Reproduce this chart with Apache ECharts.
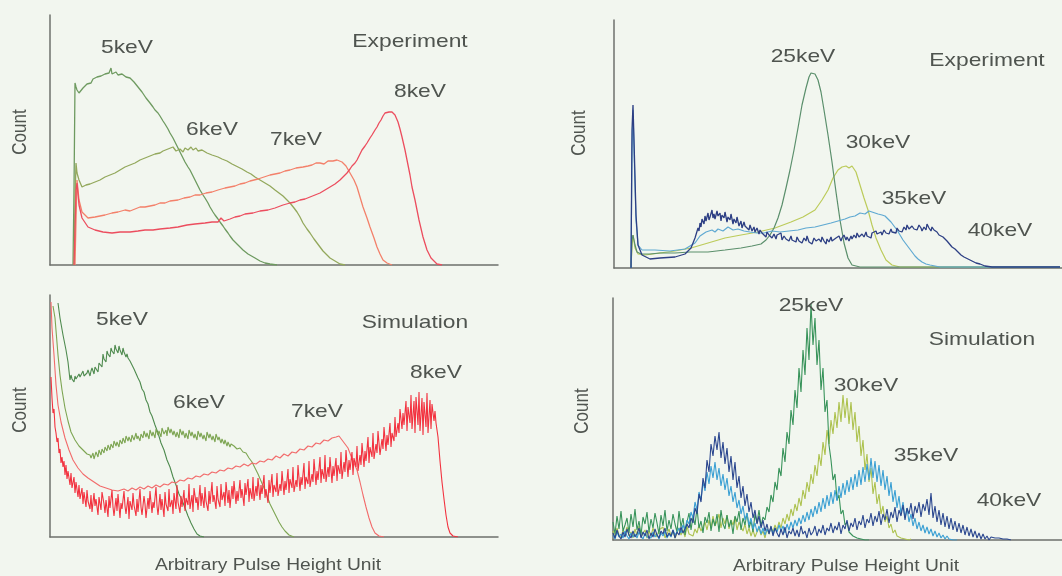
<!DOCTYPE html>
<html><head><meta charset="utf-8">
<script src="https://cdn.jsdelivr.net/npm/echarts/dist/echarts.min.js"></script>
<style>html,body{margin:0;padding:0;background:#f2f6ef}#c{width:1062px;height:576px}</style>
</head><body><div id="c"></div>
<script>
// ---------- DATA (arbitrary pulse-height channel, count) ----------
// Top-left: Experiment, 5-8 keV
const exp5keV = [[23,0],[24,75],[25,182],[26,178],[27,175],[29,172],[31,174],[33,177],[35,176],[37,181],[39,183],[41,182],[43,186],[45,185],[47,188],[49,186],[51,189],[53,188],[55,191],[57,189],[59,192],[61,197],[62,191],[64,190],[66,193],[68,190],[70,192],[72,191],[74,193],[76,188],[78,190],[80,187],[82,185],[84,183],[86,181],[88,178],[90,176],[92,173],[94,170],[96,167],[98,165],[100,162],[103,158],[105,155],[108,152],[110,149],[113,144],[115,141],[118,136],[120,132],[123,127],[125,123],[128,117],[130,113],[133,107],[135,103],[138,98],[140,95],[143,89],[145,85],[148,79],[150,75],[153,70],[155,67],[158,62],[160,58],[163,53],[165,50],[168,46],[170,43],[173,39],[175,36],[178,32],[180,29],[183,25],[185,23],[188,20],[190,18],[193,15],[195,14],[198,11],[200,10],[205,7],[210,4],[215,2],[220,1],[227,0]];
const exp6keV = [[24,0],[25,65],[26,102],[27,92],[29,85],[32,78],[36,80],[40,81],[45,83],[50,85],[55,88],[60,90],[65,92],[70,95],[75,98],[80,100],[85,102],[90,105],[95,107],[100,109],[105,111],[110,112],[113,114],[115,112],[118,116],[120,115],[123,118],[126,114],[130,116],[133,113],[135,117],[138,115],[141,118],[143,115],[146,117],[148,114],[152,115],[157,112],[162,110],[168,108],[172,106],[177,104],[182,101],[188,98],[192,96],[197,93],[201,91],[205,88],[210,85],[215,82],[220,79],[225,75],[229,72],[233,69],[237,65],[240,62],[244,57],[247,53],[250,48],[253,42],[257,36],[260,32],[264,26],[267,22],[270,18],[273,14],[277,10],[280,7],[285,4],[290,1],[295,0]];
const exp7keV = [[25,0],[26,45],[27,85],[29,65],[32,53],[38,47],[45,48],[50,49],[55,50],[62,52],[68,53],[75,55],[80,54],[85,56],[90,58],[95,58],[100,59],[105,60],[110,62],[115,62],[120,64],[128,65],[134,67],[140,68],[145,70],[150,70],[156,72],[162,73],[168,75],[175,77],[180,78],[185,79],[190,81],[195,82],[200,84],[208,86],[214,88],[220,90],[225,91],[230,92],[235,94],[240,95],[246,97],[253,98],[258,99],[262,100],[266,102],[270,102],[274,101],[278,104],[283,104],[287,105],[292,103],[296,99],[300,92],[304,85],[307,78],[310,68],[313,58],[317,47],[320,38],[324,27],[327,18],[330,11],[333,5],[337,2],[342,0]];
const exp8keV = [[24,0],[25,35],[26,75],[27,82],[29,60],[32,47],[38,38],[45,35],[53,33],[62,32],[70,33],[80,33],[88,34],[95,35],[103,35],[110,36],[120,37],[128,38],[137,40],[145,41],[155,42],[162,43],[168,43],[171,47],[174,44],[180,46],[185,48],[190,49],[195,51],[203,52],[210,54],[218,55],[225,57],[233,60],[240,62],[245,63],[250,65],[255,66],[260,68],[265,70],[270,72],[275,75],[280,78],[285,81],[290,85],[294,89],[297,92],[300,96],[302,99],[305,102],[307,105],[310,111],[312,115],[315,119],[317,122],[320,127],[322,130],[325,135],[327,138],[329,142],[331,145],[333,149],[335,152],[337,153],[339,153],[342,153],[345,150],[348,143],[350,136],[352,128],[355,115],[358,100],[360,90],[362,78],[365,65],[369,45],[373,28],[377,15],[381,7],[387,1],[392,0]];

// Top-right: Experiment, 25-40 keV
const exp25keV = [[17,0],[18,28],[19,33],[21,23],[23,16],[27,14],[36,14],[46,15],[61,15],[76,16],[94,16],[111,18],[127,20],[138,22],[147,24],[152,28],[156,33],[160,40],[164,50],[168,63],[172,80],[176,98],[180,118],[184,140],[188,163],[192,180],[195,191],[197,195],[198,193],[199,196],[201,194],[204,188],[207,176],[210,158],[214,133],[218,106],[222,76],[226,48],[230,25],[234,10],[238,3],[246,1],[300,1],[446,1]];
const exp30keV = [[17,0],[18,23],[19,33],[21,20],[24,14],[31,13],[46,15],[61,17],[77,20],[94,25],[111,30],[127,33],[144,36],[161,40],[177,46],[189,51],[201,58],[208,68],[214,78],[219,90],[224,98],[228,101],[232,102],[235,100],[238,102],[242,96],[246,83],[250,70],[254,58],[258,43],[262,30],[267,18],[272,8],[278,3],[286,1],[446,1]];
const exp35keV = [[17,0],[18,118],[19,158],[20,118],[22,48],[24,23],[28,18],[41,18],[56,17],[71,19],[81,25],[86,32],[92,36],[98,38],[101,36],[104,39],[109,37],[114,41],[119,38],[124,39],[130,37],[136,36],[143,35],[150,35],[158,37],[166,36],[175,37],[184,38],[192,40],[201,41],[209,43],[217,45],[224,47],[231,49],[236,51],[241,52],[246,55],[251,54],[255,57],[258,56],[261,55],[264,54],[268,53],[271,52],[274,49],[277,46],[280,42],[283,38],[286,33],[289,28],[292,24],[295,20],[298,16],[301,12],[304,9],[308,6],[312,4],[316,3],[326,1],[446,1]];
const exp40keV = [[17,0],[18,138],[19,163],[20,128],[22,53],[24,23],[28,13],[36,9],[46,10],[61,11],[71,14],[77,20],[81,30],[84,40],[85,37],[86,45],[87,41],[88,49],[90,44],[91,52],[92,47],[94,55],[95,48],[96,51],[98,58],[99,50],[100,54],[101,49],[103,57],[104,52],[106,55],[107,47],[108,53],[110,50],[111,56],[113,46],[114,51],[116,48],[117,54],[119,44],[120,49],[122,45],[123,51],[125,42],[127,47],[128,40],[130,46],[131,42],[133,44],[135,38],[136,43],[138,37],[140,41],[141,36],[143,40],[145,34],[146,38],[148,35],[150,37],[152,31],[153,36],[155,33],[157,35],[158,30],[160,34],[162,29],[163,33],[165,31],[167,35],[168,28],[170,32],[172,29],[173,31],[175,27],[177,32],[178,28],[180,30],[182,26],[183,31],[185,27],[187,29],[188,25],[190,30],[192,27],[193,32],[195,26],[197,28],[198,24],[200,30],[202,27],[203,25],[205,29],[207,26],[208,31],[210,27],[212,24],[213,29],[215,26],[217,31],[218,27],[220,25],[222,30],[223,28],[225,32],[227,27],[228,30],[230,33],[232,28],[233,31],[235,27],[237,32],[238,29],[240,33],[242,30],[243,35],[245,31],[247,29],[248,34],[250,31],[252,36],[253,32],[255,34],[257,30],[258,35],[260,33],[262,37],[263,34],[265,32],[267,36],[268,33],[270,38],[272,35],[273,37],[275,34],[277,39],[278,36],[280,38],[282,35],[283,40],[285,37],[287,39],[288,36],[290,41],[292,38],[293,43],[295,39],[297,37],[298,42],[300,39],[302,41],[303,38],[305,43],[307,40],[308,37],[310,41],[312,38],[313,44],[315,40],[317,37],[318,41],[320,38],[322,39],[323,36],[325,33],[327,34],[329,31],[331,29],[333,27],[335,25],[338,21],[341,19],[344,16],[347,13],[350,11],[354,9],[358,7],[362,5],[366,4],[371,2],[378,1],[446,1]];

// Bottom-left: Simulation, 5-8 keV
const sim5keV = [[8,234],[10,219],[13,202],[16,187],[18,175],[20,157],[21,162],[22,158],[24,155],[25,161],[26,158],[28,156],[29,163],[30,160],[32,159],[33,166],[34,161],[36,160],[37,164],[38,167],[40,161],[41,166],[42,169],[44,163],[45,170],[46,172],[48,165],[49,174],[50,176],[52,170],[53,183],[54,178],[56,175],[57,186],[58,183],[60,180],[61,189],[62,186],[64,183],[65,192],[66,188],[68,184],[69,191],[70,187],[72,182],[73,189],[74,185],[76,180],[77,183],[78,179],[80,176],[82,174],[84,168],[86,166],[88,159],[90,155],[92,148],[94,145],[96,137],[98,133],[100,125],[102,121],[105,112],[108,104],[111,94],[114,87],[117,77],[120,70],[123,60],[126,52],[129,43],[132,37],[135,29],[138,21],[141,14],[144,8],[147,3],[150,1],[154,0]];
const sim6keV = [[3,231],[5,219],[8,182],[10,162],[12,147],[15,129],[18,116],[21,105],[25,97],[29,91],[33,87],[37,83],[40,82],[41,79],[43,84],[44,78],[46,85],[48,80],[49,87],[51,82],[52,88],[54,84],[55,90],[57,86],[58,92],[60,87],[61,93],[63,89],[64,96],[66,91],[67,95],[69,90],[70,97],[72,93],[73,99],[75,94],[76,101],[78,96],[79,100],[81,95],[82,102],[84,97],[86,104],[87,98],[88,101],[90,96],[91,103],[93,99],[94,106],[96,100],[97,104],[99,98],[100,107],[102,101],[103,105],[105,99],[106,108],[108,102],[109,106],[111,100],[112,109],[114,103],[116,107],[117,101],[118,110],[120,104],[121,108],[123,102],[124,106],[126,100],[127,105],[129,99],[130,108],[132,102],[133,106],[135,99],[136,104],[138,98],[139,107],[141,101],[142,105],[144,99],[145,103],[147,97],[148,106],[150,100],[151,104],[153,98],[154,102],[156,96],[157,105],[159,99],[160,103],[162,97],[163,101],[165,95],[166,103],[168,97],[169,100],[171,94],[172,98],[174,93],[175,97],[177,91],[178,95],[180,90],[181,93],[184,91],[187,88],[190,89],[193,85],[196,84],[199,79],[202,75],[205,69],[208,63],[211,56],[214,49],[217,41],[220,33],[223,27],[226,21],[229,15],[232,10],[235,6],[239,2],[244,0]];
const sim7keV = [[1,235],[2,209],[4,182],[6,152],[8,132],[11,115],[15,99],[19,87],[23,77],[28,69],[33,63],[38,59],[44,55],[50,51],[56,49],[62,47],[68,46],[74,48],[78,46],[82,49],[86,47],[90,50],[94,48],[98,51],[102,49],[106,52],[110,50],[114,53],[118,52],[122,55],[126,54],[130,57],[134,56],[138,59],[142,58],[146,61],[150,60],[154,63],[158,62],[162,65],[166,64],[170,67],[174,66],[178,69],[182,68],[186,71],[190,70],[194,73],[198,71],[202,74],[206,73],[210,76],[214,75],[218,78],[222,77],[226,81],[230,79],[234,83],[238,81],[242,85],[246,84],[250,88],[254,87],[258,91],[262,90],[266,94],[270,93],[274,97],[278,96],[282,99],[286,100],[289,101],[292,97],[295,93],[298,89],[301,81],[304,74],[307,67],[310,55],[313,42],[316,30],[319,19],[322,10],[325,4],[329,1],[334,0]];
const sim8keV = [[1,160],[2,139],[3,124],[4,128],[5,110],[6,104],[7,95],[8,99],[9,84],[10,88],[11,74],[12,80],[13,70],[14,76],[15,62],[16,72],[17,58],[18,66],[20,52],[21,64],[22,49],[24,60],[25,44],[26,55],[28,40],[29,52],[30,38],[32,49],[33,33],[34,45],[36,30],[37,47],[38,36],[40,28],[41,42],[42,25],[44,44],[45,31],[46,38],[48,22],[49,40],[51,27],[52,45],[54,33],[55,24],[56,37],[58,20],[59,41],[60,29],[62,47],[63,30],[64,21],[66,39],[67,26],[68,43],[70,19],[71,34],[72,28],[74,46],[75,31],[76,23],[78,40],[79,18],[80,36],[82,27],[83,44],[84,32],[86,21],[87,38],[88,25],[90,48],[91,30],[92,22],[94,41],[95,33],[96,19],[98,39],[99,28],[100,46],[102,24],[103,35],[104,29],[106,50],[107,31],[108,22],[110,43],[111,27],[112,38],[114,20],[115,45],[116,33],[118,26],[119,48],[120,30],[122,37],[123,23],[124,44],[126,28],[127,52],[128,35],[130,24],[131,41],[132,30],[134,47],[135,26],[136,39],[138,32],[139,53],[140,28],[142,42],[143,25],[144,49],[146,34],[147,40],[148,27],[150,52],[151,31],[152,44],[154,29],[155,50],[156,36],[158,26],[159,46],[160,33],[162,55],[163,35],[164,42],[166,28],[167,51],[168,38],[170,30],[171,53],[172,37],[174,45],[175,31],[176,55],[178,34],[179,47],[180,29],[182,51],[183,38],[184,56],[186,33],[187,46],[188,36],[190,57],[191,39],[192,48],[194,31],[195,54],[196,42],[198,58],[199,35],[200,49],[202,38],[203,60],[204,36],[206,51],[207,41],[208,59],[210,37],[211,52],[212,43],[214,62],[215,39],[216,48],[218,34],[219,57],[220,44],[222,63],[223,40],[224,52],[226,45],[227,64],[228,41],[230,53],[231,46],[232,66],[234,42],[235,56],[236,47],[238,68],[239,44],[240,58],[242,49],[243,70],[244,45],[246,57],[247,50],[248,72],[250,46],[251,60],[252,52],[254,74],[255,48],[256,60],[258,53],[259,76],[260,50],[262,63],[263,55],[264,78],[266,52],[267,66],[268,57],[270,80],[271,54],[272,68],[274,58],[275,82],[276,55],[278,70],[279,60],[280,80],[282,54],[283,71],[284,61],[286,79],[287,56],[288,72],[290,63],[291,85],[292,58],[294,75],[295,65],[296,87],[298,60],[299,77],[300,67],[302,85],[303,62],[304,79],[306,70],[307,91],[308,66],[310,82],[311,72],[312,94],[314,70],[315,86],[316,76],[318,100],[319,74],[320,90],[322,80],[323,104],[324,78],[326,93],[327,84],[328,106],[330,82],[332,98],[333,88],[334,110],[336,86],[337,102],[338,92],[340,114],[341,90],[342,104],[344,96],[345,120],[346,100],[348,114],[349,104],[350,128],[352,108],[353,124],[354,112],[356,136],[357,106],[358,130],[360,114],[361,142],[362,108],[364,136],[365,104],[366,140],[368,112],[369,145],[370,106],[372,139],[373,102],[374,135],[376,110],[377,144],[378,104],[380,137],[381,108],[382,133],[384,116],[385,126],[386,114],[388,100],[390,76],[392,55],[394,38],[396,22],[398,10],[400,4],[403,1],[408,0]];

// Bottom-right: Simulation, 25-40 keV (one value every 2 channels from channel 0)
const simChannelStep = 2;
const sim25keV = [18,6,24,11,29,9,15,22,7,26, 13,31,10,19,5,23,16,28,8,21, 12,27,17,6,25,14,30,9,20,11, 26,16,8,29,13,22,5,18,27,10, 24,15,32,12,19,7,23,17,28,9, 21,14,26,8,30,16,11,25,13,20, 6,24,18,29,10,22,15,27,12,19, 8,26,17,30,14,23,20,33,28,45, 38,58,50,72,64,92,78,108,96,130, 115,150,132,172,148,190,165,212,180,236, 195,222,175,200,150,172,128,140,95,80, 60,66,40,45,26,30,15,18,8,10, 4,6,2,3,1,2,0,1,0];
const sim30keV = [9,3,12,5,2,10,6,13,4,8, 2,11,5,14,3,7,10,2,9,4, 12,6,3,10,8,13,2,6,11,4, 9,2,7,12,5,10,3,14,6,8, 4,11,7,15,9,13,18,10,20,12, 24,14,19,26,12,22,16,25,11,20, 15,23,10,18,13,9,16,6,12,4, 10,3,8,12,5,9,2,11,6,13, 8,15,10,18,12,22,16,26,19,31, 24,36,29,42,34,50,41,58,48,66, 56,75,64,86,74,98,85,110,96,120, 106,128,112,138,118,145,122,142,116,138, 110,128,98,114,84,100,70,86,58,72, 46,58,36,46,26,34,18,24,12,16, 7,10,4,6,2,3,1,2,0,1];
const sim35keV = [5,1,8,3,6,2,9,4,1,7, 3,6,2,8,4,1,7,3,5,2, 8,3,6,1,7,4,9,2,6,3, 10,5,8,12,7,15,11,20,16,28, 22,38,30,48,40,58,49,68,56,74, 62,78,60,72,54,66,50,62,44,54, 38,48,32,40,26,34,20,27,15,22, 11,17,8,14,6,12,5,11,7,13, 6,12,8,15,9,14,7,16,10,18, 12,20,14,22,16,25,18,28,20,31, 23,34,26,38,28,42,31,45,34,48, 36,50,39,54,42,57,45,60,48,63, 50,66,53,70,55,73,58,76,60,82, 62,79,58,75,54,70,50,64,44,58, 38,50,32,44,26,38,22,32,18,26, 14,22,11,18,9,15,7,13,6,11, 4,9,3,7,2,5,1,4,1,3, 0,2,0];
const sim40keV = [7,2,10,4,1,8,3,11,5,2, 9,3,6,12,2,8,4,10,1,7, 3,11,5,2,9,6,12,3,7,4, 10,2,8,5,13,7,11,16,12,22, 17,32,26,46,38,62,52,80,68,96, 84,104,90,108,82,98,76,92,68,84, 60,78,52,64,42,54,34,46,28,38, 22,30,16,24,12,20,9,16,6,14, 4,12,7,3,11,5,13,2,9,6, 12,4,10,3,14,6,9,2,12,5, 8,14,4,11,7,15,5,12,9,17, 7,14,10,18,6,15,11,20,9,17, 13,22,10,19,15,25,12,21,17,27, 14,24,18,29,15,26,20,31,17,28, 22,33,18,30,24,35,20,32,26,37, 21,34,27,38,23,36,29,41,25,47, 22,34,18,30,15,27,13,24,11,22, 10,19,8,17,7,15,5,13,4,11, 3,9,2,7,1,6,1,4,0,3, 1,2,0,2,0,1,0,1,0,0];

const energiesLow = ['5keV','6keV','7keV','8keV'];
const energiesHigh = ['25keV','30keV','35keV','40keV'];
const panelTitles = ['Experiment','Experiment','Simulation','Simulation'];
const xAxisTitle = 'Arbitrary Pulse Height Unit';
const yAxisTitle = 'Count';

// ---------- LAYOUT ----------
const panels = [
  {left:50,  top:15,  width:448, height:250},
  {left:614, top:20,  width:448, height:248},
  {left:50,  top:295, width:448, height:242},
  {left:613, top:298, width:449, height:242}
];
const stepped = vals => vals.map((v,i)=>[i*simChannelStep, v]);

const seriesDefs = [
  {p:0, d:exp5keV, c:'#6e9a60', w:1.3},
  {p:0, d:exp6keV, c:'#93a85c', w:1.3},
  {p:0, d:exp7keV, c:'#f3806a', w:1.3},
  {p:0, d:exp8keV, c:'#ec4d5e', w:1.3},
  {p:1, d:exp30keV, c:'#bccb5a', w:1.2},
  {p:1, d:exp25keV, c:'#5b8f6c', w:1.2},
  {p:1, d:exp35keV, c:'#5fa9d2', w:1.2},
  {p:1, d:exp40keV, c:'#2d3f84', w:1.3},
  {p:2, d:sim5keV, c:'#4e8a4e', w:1.1},
  {p:2, d:sim6keV, c:'#7da552', w:1.1},
  {p:2, d:sim7keV, c:'#f26a6a', w:1.1},
  {p:2, d:sim8keV, c:'#f2323f', w:1.1},
  {p:3, d:stepped(sim30keV), c:'#adc24f', w:1.1},
  {p:3, d:stepped(sim25keV), c:'#38935a', w:1.1},
  {p:3, d:stepped(sim35keV), c:'#3a9fd3', w:1.1},
  {p:3, d:stepped(sim40keV), c:'#2b478f', w:1.1}
];

const axisLine = {show:true, onZero:false, lineStyle:{color:'#6e706c', width:1.5}};
const hidden = {axisTick:{show:false}, axisLabel:{show:false}, splitLine:{show:false}};

const textColor = '#4f544f';
function txt(text, x, y, size) {
  return {
    type:'text', x:x, y:y, scaleX:1.2, z:10,
    style:{text:text, fill:textColor, font: size + 'px "Liberation Sans", Arial, sans-serif',
      textAlign:'center', textVerticalAlign:'middle', align:'center', verticalAlign:'middle'}
  };
}
function vtxt(text, x, y) {
  return {
    type:'text', x:x, y:y, rotation:Math.PI/2, scaleY:1.2, z:10,
    style:{text:text, fill:textColor, font:'17px "Liberation Sans", Arial, sans-serif',
      textAlign:'center', textVerticalAlign:'middle', align:'center', verticalAlign:'middle'}
  };
}
const graphics = [
  txt(energiesLow[0],127,48,19), txt(energiesLow[1],212,130,19), txt(energiesLow[2],296,140,19), txt(energiesLow[3],420,92,19), txt(panelTitles[0],410,42,19),
  txt(energiesHigh[0],803,57,19), txt(panelTitles[1],987,61,19), txt(energiesHigh[1],878,143,19), txt(energiesHigh[2],914,199,19), txt(energiesHigh[3],1000,231,19),
  txt(energiesLow[0],122,320,19), txt(energiesLow[1],199,403,19), txt(energiesLow[2],317,412,19), txt(energiesLow[3],436,373,19), txt(panelTitles[2],415,323,19),
  txt(energiesHigh[0],811,306,19), txt(panelTitles[3],982,340,19), txt(energiesHigh[1],866,386,19), txt(energiesHigh[2],926,456,19), txt(energiesHigh[3],1009,501,19),
  txt(xAxisTitle,268,566,16), txt(xAxisTitle,846,567,16),
  vtxt(yAxisTitle,20,132), vtxt(yAxisTitle,20,410), vtxt(yAxisTitle,579,133), vtxt(yAxisTitle,582,411)
];

const option = {
  backgroundColor:'#f2f6ef',
  animation:false,
  grid: panels.map(p=>({left:p.left, top:p.top, width:p.width, height:p.height, containLabel:false})),
  xAxis: panels.map((p,i)=>Object.assign({type:'value', gridIndex:i, min:0, max:p.width, axisLine:axisLine}, hidden)),
  yAxis: panels.map((p,i)=>Object.assign({type:'value', gridIndex:i, min:0, max:p.height, axisLine:axisLine}, hidden)),
  series: seriesDefs.map(s=>({
    type:'line', xAxisIndex:s.p, yAxisIndex:s.p, data:s.d, showSymbol:false, symbol:'none',
    lineStyle:{color:s.c, width:s.w}, itemStyle:{color:s.c}, silent:true
  })),
  graphic: graphics
};
const chart = echarts.init(document.getElementById('c'), null, {renderer:'canvas'});
chart.setOption(option);
</script></body></html>
